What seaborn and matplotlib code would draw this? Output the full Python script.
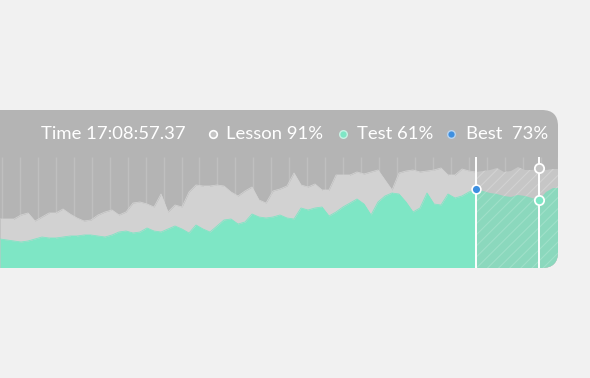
import numpy as np
import pandas as pd
import seaborn as sns
import matplotlib
matplotlib.use("Agg")
import matplotlib.pyplot as plt
from matplotlib.patches import FancyBboxPatch

# ---- data (chart height units, 0 = bottom of panel) ----
lesson = [49, 49, 49, 53, 55, 47, 51, 55, 55, 59, 54, 50, 47, 48, 53, 56, 58, 53, 56, 65,
          66, 64, 61, 74, 56, 63, 61, 76, 83, 82, 82, 83, 82, 76, 72, 77, 81, 68, 65, 77,
          79, 82, 95, 83, 81, 84, 78, 78, 93, 93, 93, 96, 94, 96, 98, 88, 78, 95, 97, 98,
          96, 97, 98, 100, 93, 93, 99, 97, 96,
          97, 98, 100, 96, 97, 101, 98, 98, 100, 98, 99, 99]
test = [29, 28, 27, 26, 27, 29, 31, 30, 30, 31, 32, 32, 33, 33, 32, 31, 33, 36, 37, 35,
        36, 40, 37, 36, 39, 42, 39, 35, 43, 39, 36, 42, 48, 49, 44, 46, 54, 51, 50, 51,
        53, 50, 49, 60, 58, 60, 61, 52, 56, 61, 65, 69, 64, 53, 66, 72, 75, 74, 66, 56,
        60, 75, 64, 63, 74, 70, 72, 76, 79,
        77, 75, 74, 72, 71, 73, 72, 70, 68, 76, 80, 80]
best_index = 68      # end of recorded part / best marker
cursor_index = 77    # hover cursor
legend_time = "Time 17:08:57.37"
legend_labels = ["Lesson 91%", "Test 61%", "Best  73%"]

sns.set_theme(style="white")
plt.rcParams["font.family"] = ["Lato", "DejaVu Sans"]
plt.rcParams["hatch.linewidth"] = 0.8

W, H = 590, 378
fig = plt.figure(figsize=(W / 100, H / 100), dpi=100, facecolor="#f1f1f1")

# background / overlay axes in pixel coords
bg = fig.add_axes([0, 0, 1, 1])
bg.set_xlim(0, W)
bg.set_ylim(H, 0)
bg.axis("off")
bg.set_zorder(0)

panel = FancyBboxPatch((-30, 110), 588, 158,
                       boxstyle="round,pad=0,rounding_size=16",
                       facecolor="#b4b4b4", edgecolor="none")
bg.add_patch(panel)

# chart axes
ax = fig.add_axes([0, (H - 268) / H, 560 / W, 113 / H])
ax.set_zorder(1)
ax.patch.set_visible(False)
ax.set_xlim(0, 80)
ax.set_ylim(0, 113)
ax.axis("off")

x = np.arange(len(lesson))
df = pd.DataFrame({"t": x, "lesson": lesson, "test": test})
solid = df[df.t <= best_index]
future = df[df.t >= best_index]

grid_x = (2 + 17.95 * np.arange(32)) / 7.0
grid_x = grid_x[grid_x < 80]
ax.vlines(grid_x, 0, 111, color="#bfbfbf", lw=1.0, zorder=1)

ax.fill_between(solid.t, 0, solid.lesson, color="#d2d2d2", lw=0, zorder=2)
sns.lineplot(data=solid, x="t", y="lesson", color="#d2d2d2", lw=0.6, ax=ax, zorder=2)
ax.fill_between(solid.t, 0, solid.test, color="#7ee6c5", lw=0, zorder=3)
sns.lineplot(data=solid, x="t", y="test", color="#7ee6c5", lw=0.6, ax=ax, zorder=3)

ax.fill_between(future.t, 0, future.lesson, facecolor="#c6c6c6", edgecolor="#d2d2d2",
                hatch="///", lw=0, zorder=2)
ax.fill_between(future.t, 0, future.test, facecolor="#8bd8bd", edgecolor="#9fe0c9",
                hatch="///", lw=0, zorder=3)

ax.vlines([best_index, cursor_index], 0, 111, color="white", lw=1.4, zorder=5)
ax.scatter([best_index], [test[best_index]], s=40, color="#3d8fe0",
           edgecolor="white", linewidth=1.2, zorder=6)
ax.scatter([cursor_index], [lesson[cursor_index]], s=45, color="#c4c4c4",
           edgecolor="white", linewidth=1.3, zorder=6)
ax.scatter([cursor_index], [test[cursor_index]], s=45, color="#7ee6c5",
           edgecolor="white", linewidth=1.3, zorder=6)

for art in ax.get_children():
    try:
        art.set_clip_path(panel)
    except Exception:
        pass
ax.set_xlabel("")
ax.set_ylabel("")
if ax.get_legend():
    ax.get_legend().remove()

# legend row
ty = 134
fs = 13.3
kw = dict(color="white", fontsize=fs, va="center", ha="left", fontweight="normal")
bg.text(41, ty, legend_time, **kw)
bg.scatter([213], [ty], s=30, color="#c4c4c4", edgecolor="white", linewidth=1.2, zorder=3)
bg.text(226, ty, legend_labels[0], **kw)
bg.scatter([343], [ty], s=30, color="#7ee6c5", edgecolor="#c8f2e4", linewidth=1.0, zorder=3)
bg.text(357, ty, legend_labels[1], **kw)
bg.scatter([451], [ty], s=30, color="#3d8fe0", edgecolor="#b8d4f0", linewidth=1.0, zorder=3)
bg.text(466, ty, legend_labels[2], **kw)

fig.savefig("out.png", dpi=100, facecolor=fig.get_facecolor())
